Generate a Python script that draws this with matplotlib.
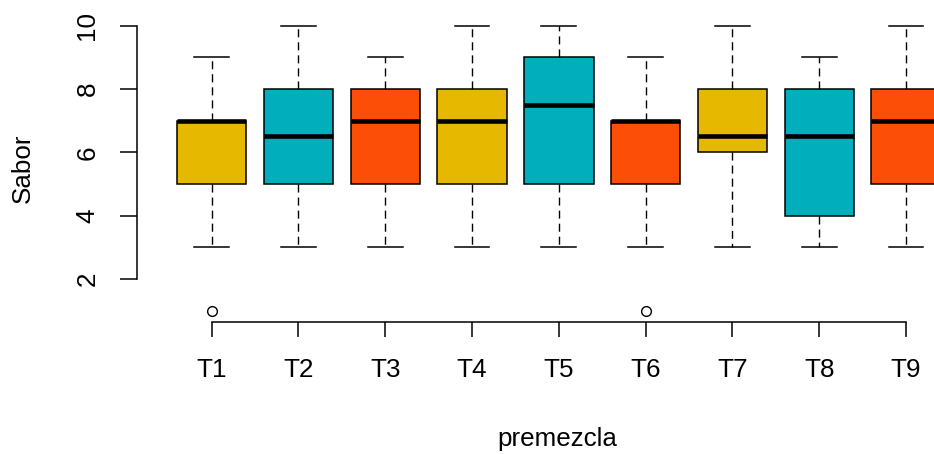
import matplotlib
matplotlib.use("Agg")
import matplotlib.pyplot as plt

plt.rcParams['font.family'] = ['Liberation Sans', 'DejaVu Sans']

categories = ["T1", "T2", "T3", "T4", "T5", "T6", "T7", "T8", "T9"]
whislo = [3, 3, 3, 3, 3, 3, 3, 3, 3]
q1 = [5, 5, 5, 5, 5, 5, 6, 4, 5]
med = [7, 6.5, 7, 7, 7.5, 7, 6.5, 6.5, 7]
q3 = [7, 8, 8, 8, 9, 7, 8, 8, 8]
whishi = [9, 10, 9, 10, 10, 9, 10, 9, 10]
fliers = [[1], [], [], [], [], [1], [], [], []]
colors = ["#E7B800", "#00AFBB", "#FC4E07"]
yticks = [2, 4, 6, 8, 10]

W, H = 934, 454
fig = plt.figure(figsize=(W / 100, H / 100), dpi=100)
ax = fig.add_axes([137 / W, 1 - 322 / H, 843.7 / W, (322 - 14.3) / H])

stats = []
for i, c in enumerate(categories):
    stats.append(dict(label=c, whislo=whislo[i], q1=q1[i], med=med[i],
                      q3=q3[i], whishi=whishi[i], fliers=fliers[i]))

positions = list(range(1, len(categories) + 1))
bp = ax.bxp(stats, positions=positions, widths=0.8, patch_artist=True,
            showfliers=True,
            boxprops=dict(edgecolor="black", linewidth=1.1),
            medianprops=dict(color="black", linewidth=3.3, solid_capstyle="butt"),
            whiskerprops=dict(color="black", linewidth=1.0, linestyle=(0, (5.8, 3.6))),
            capprops=dict(color="black", linewidth=1.1),
            capwidths=0.4,
            flierprops=dict(marker="o", markerfacecolor="white", markeredgecolor="black",
                            markersize=7, markeredgewidth=1.0, linestyle="none"))
for i, patch in enumerate(bp["boxes"]):
    patch.set_facecolor(colors[i % len(colors)])

ax.set_xlim(0.14, 9.86)
ax.set_ylim(0.64, 10.36)

for s in ["top", "right"]:
    ax.spines[s].set_visible(False)
ax.spines["left"].set_bounds(2, 10)
ax.spines["bottom"].set_bounds(1, 9)
ax.spines["left"].set_linewidth(1.1)
ax.spines["bottom"].set_linewidth(1.1)

ax.set_yticks(yticks)
ax.set_yticklabels([str(v) for v in yticks], rotation=90, va="center", fontsize=18.7)
ax.set_xticks(positions)
ax.set_xticklabels(categories, fontsize=18.7)
ax.tick_params(axis="y", length=12, width=1.1, pad=15)
ax.tick_params(axis="x", length=11, width=1.1, pad=15)

fig.text(23 / W, 1 - 168 / H, "Sabor", rotation=90, ha="center", va="center", fontsize=18.7)
fig.text(557 / W, 1 - 439 / H, "premezcla", ha="center", va="center", fontsize=18.7)

fig.savefig("out.png", dpi=100)
